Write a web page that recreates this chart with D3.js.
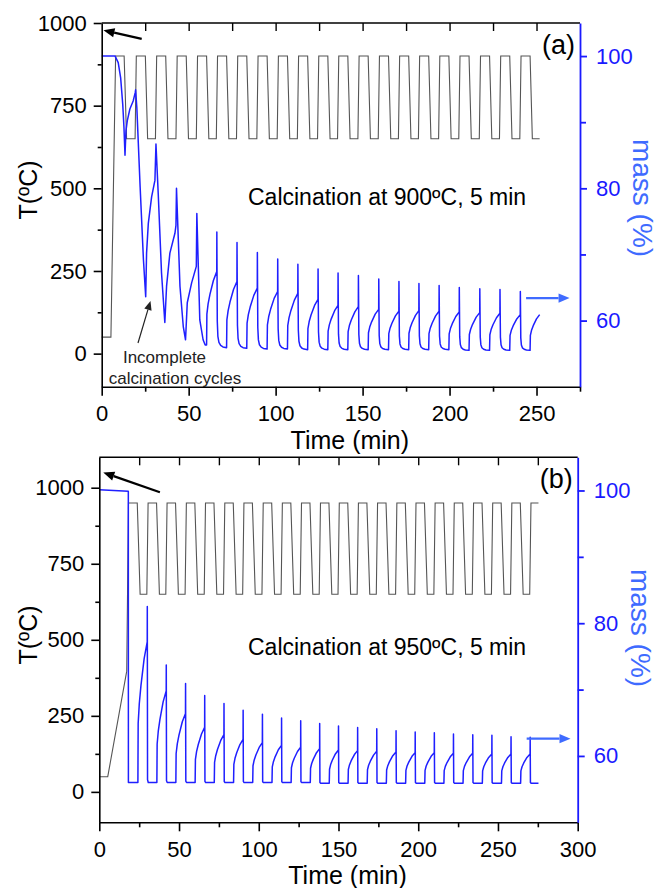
<!DOCTYPE html>
<html>
<head>
<meta charset="utf-8">
<script src="https://cdn.jsdelivr.net/npm/d3@7"></script>
<style>
    body { margin: 0; background: #fff; }
    text { font-family: "Liberation Sans", Arial, sans-serif; }
</style>
</head>
<body>
<svg id="chart" width="660" height="888"></svg>
<script>
// ---------- panel (a): calcination at 900 C ----------
// temperature program: start, then one heat/hold/cool step per cycle
const tempStartTimeA = [0, 5.3, 8.0, 12.9, 14.3];
const tempStartA = [50, 50, 900, 900, 650];
const tempStepDtA = [-0.3, 0.4, 5.6, 6.9];
const tempStepA = [650, 900, 900, 650];
const endTimeA = 251.8;
// heating onsets (min) = the spikes of the mass curve
const cycleTimeA = [19.5, 31.2, 43.0, 54.7, 66.2, 77.8, 89.5, 101.2, 112.8, 124.4,
    135.9, 147.6, 159.3, 170.9, 182.4, 194.0, 205.6, 217.4, 229.0, 240.7];
// first calcination and the incomplete cycles, read point by point
const earlyTimeA = [0, 7.7, 9.5, 10.9, 12.1, 12.8, 13.4, 13.95, 14.7, 16.2, 18.1, 19.3, 19.5,
    20.2, 22.1, 24.0, 25.3, 25.8, 26.8, 28.7, 30.6, 31.2, 32.5, 34.4, 36.3,
    37.3, 39.2, 42.1, 42.7, 43.0, 45.0, 46.9, 48.2, 49.2, 51.7, 54.4, 54.7, 56.4, 58.3, 59.5];
const earlyMassA = [100, 100, 99.0, 96.7, 92.7, 89.2, 85.0, 88.7, 90.2, 92.0, 93.2, 94.5, 94.9,
    92.2, 80.2, 69.2, 63.6, 70.2, 74.7, 78.7, 81.2, 86.7, 79.2, 67.2, 59.7,
    65.2, 70.2, 73.2, 74.4, 80.0, 65.2, 59.1, 57.1, 62.7, 65.7, 68.2, 76.2, 60.1, 57.1, 56.3];
// cycles 5-20: mass at end of carbonation, spike top, and after calcination (%)
const topMassA = [67.4, 65.9, 64.9, 64.4, 64.1, 63.2, 62.3, 62.1, 61.7, 61.4, 61.5, 61.4, 61.3, 61.2, 61.1, 60.9];
const peakMassA = [73.4, 71.8, 70.3, 69.3, 68.5, 67.8, 67.2, 66.8, 66.3, 65.9, 65.6, 65.3, 65.0, 64.8, 64.7, 64.4];
const lowMassA = [55.9, 55.8, 55.7, 55.7, 55.6, 55.6, 55.6, 55.6, 55.6, 55.6, 55.6, 55.6, 55.5, 55.5, 55.5, 55.5];
const endMassA = 60.9;

// ---------- panel (b): calcination at 950 C ----------
const tempStartTimeB = [0, 5.3, 17.2, 18.3, 23.8, 25.6];
const tempStartB = [50, 50, 397, 950, 950, 650];
const tempStepDtB = [-0.3, 0.5, 5.8, 7.6];
const tempStepB = [650, 950, 950, 650];
const endTimeB = 275.4;
const cycleTimeB = [30.1, 42.0, 54.1, 66.1, 78.2, 90.2, 102.3, 114.3, 126.3, 138.2, 150.0,
    162.0, 174.0, 186.1, 198.1, 210.1, 222.1, 234.2, 246.2, 258.2, 270.2];
const earlyTimeB = [0, 18.2, 18.25];
const earlyMassB = [100.1, 99.9, 56.0];
const topMassB = [77.2, 69.8, 66.4, 64.3, 63.2, 62.5, 62.0, 61.6, 61.3, 61.1, 60.9,
    60.8, 60.7, 60.6, 60.5, 60.5, 60.4, 60.4, 60.3, 60.3, 60.3];
const peakMassB = [82.5, 73.7, 70.9, 69.1, 67.9, 66.9, 66.3, 65.7, 65.3, 64.9, 64.5,
    64.3, 64.1, 63.8, 63.6, 63.5, 63.3, 63.2, 63.1, 62.9, 62.8];
const lowMassB = [56.0, 56.0, 56.0, 56.0, 56.0, 56.0, 56.0, 56.0, 56.0, 55.9, 55.9,
    55.9, 55.9, 55.9, 55.9, 55.9, 55.9, 55.9, 55.9, 55.9, 55.9];

// shape of one carbonation step (fraction of time, fraction of mass gain)
const riseU = [0, 0.03, 0.15, 0.33, 0.67, 1];
const riseF = [0, 0.42, 0.56, 0.69, 0.88, 1];

var svg = d3.select('#chart');
var massBlue = '#1f1fff';
var labelBlue = '#3f6bff';

function buildTemp(startT, startV, steps, stepDt, stepV, endTime) {
    let pts = startT.map((t, i) => [t, startV[i]]);
    steps.forEach(function (s) {
        stepDt.forEach(function (dt, j) {
            pts.push([s + dt, stepV[j]]);
        });
    });
    let out = pts.filter((d) => d[0] < endTime);
    out.push([endTime, out[out.length - 1][1]]);
    return out;
}

function buildMass(cfg) {
    let pts = cfg.earlyT.map((t, i) => [t, cfg.earlyM[i]]);
    let low = cfg.earlyM[cfg.earlyM.length - 1];
    let prevSpike = cfg.firstPrev;
    cfg.spikes.forEach(function (s, i) {
        let rs = prevSpike + cfg.riseDelay;
        riseU.forEach(function (u, j) {
            pts.push([rs + u * (s - 0.05 - rs), low + riseF[j] * (cfg.top[i] - low)]);
        });
        pts.push([s, cfg.peak[i]]);
        let newLow = cfg.low[i];
        cfg.dropDt.forEach(function (dt, j) {
            pts.push([s + dt, newLow + cfg.dropF[j] * (cfg.top[i] - newLow)]);
        });
        low = newLow;
        prevSpike = s;
    });
    let rs = prevSpike + cfg.riseDelay;
    if (cfg.endMass !== undefined) {
        pts.push([rs, low]);
        riseU.slice(1).forEach(function (u, j) {
            pts.push([rs + u * (cfg.endTime - rs), low + riseF[j + 1] * (cfg.endMass - low)]);
        });
    } else {
        pts.push([cfg.endTime, low]);
    }
    return pts;
}

function drawPanel(p) {
    let x = d3.scaleLinear().domain(p.xDomain).range([p.left, p.right]);
    let yT = d3.scaleLinear().domain(p.tDomain).range([p.bottom, p.top]);
    let yM = d3.scaleLinear().domain([50, 105]).range([p.bottom, p.top]);
    let g = svg.append('g');

    // curves
    let lineT = d3.line().x((d) => x(d[0])).y((d) => yT(d[1]));
    let lineM = d3.line().x((d) => x(d[0])).y((d) => yM(d[1]));
    g.append('path').attr('d', lineT(p.temp))
        .attr('fill', 'none').attr('stroke', '#555').attr('stroke-width', 1.1);
    g.append('path').attr('d', lineM(p.mass))
        .attr('fill', 'none').attr('stroke', massBlue).attr('stroke-width', 1.5)
        .attr('stroke-linejoin', 'round');

    // frame: top line
    g.append('line').attr('x1', p.left).attr('x2', p.right).attr('y1', p.top).attr('y2', p.top)
        .attr('stroke', '#000').attr('stroke-width', 1.6);

    let fontSize = 22;
    // bottom axis
    let xb = g.append('g').attr('transform', 'translate(0,' + p.bottom + ')');
    xb.call(d3.axisBottom(x).tickValues(p.xMajor).tickSize(9).tickSizeOuter(0).tickPadding(10).tickFormat(d3.format('d')));
    xb.append('g').call(d3.axisBottom(x).tickValues(p.xMinor).tickSize(5).tickFormat(''))
        .select('.domain').remove();
    // top ticks, inward
    let xt = g.append('g').attr('transform', 'translate(0,' + p.top + ')');
    xt.call(d3.axisTop(x).tickValues(p.xMajor.concat(p.xMinor).filter((v) => v > 0 && v < p.xDomain[1]))
        .tickSize(-8).tickFormat('')).select('.domain').remove();
    // left axis
    let yl = g.append('g').attr('transform', 'translate(' + p.left + ',0)');
    yl.call(d3.axisLeft(yT).tickValues([0, 250, 500, 750, 1000]).tickSize(8).tickSizeOuter(0)
        .tickPadding(7).tickFormat(d3.format('d')));
    yl.append('g').call(d3.axisLeft(yT).tickValues([125, 375, 625, 875]).tickSize(4).tickFormat(''))
        .select('.domain').remove();
    // right axis, blue
    let yr = g.append('g').attr('transform', 'translate(' + p.right + ',0)');
    yr.call(d3.axisRight(yM).tickValues([60, 80, 100]).tickSize(7).tickSizeOuter(0).tickPadding(9));
    yr.append('g').call(d3.axisRight(yM).tickValues([70, 90]).tickSize(6).tickFormat(''))
        .select('.domain').remove();

    [xb, yl].forEach(function (a) {
        a.selectAll('path, line').attr('stroke', '#000').attr('stroke-width', 1.6);
        a.selectAll('text').attr('fill', '#000').style('font-size', fontSize + 'px');
    });
    xt.selectAll('line').attr('stroke', '#000').attr('stroke-width', 1.4);
    yr.selectAll('path, line').attr('stroke', '#1a1aff').attr('stroke-width', 1.8);
    yr.selectAll('text').attr('fill', '#1a1aff').style('font-size', fontSize + 'px');

    // axis titles
    g.append('text').attr('transform', 'translate(37,' + p.tLabelY + ') rotate(-90)')
        .attr('text-anchor', 'middle').style('font-size', '25px').text('T(ºC)');
    g.append('text').attr('x', (p.left + p.right) / 2 + 9).attr('y', p.bottom + 62)
        .attr('text-anchor', 'middle').style('font-size', '25px').text('Time (min)');
    g.append('text').attr('transform', 'translate(' + (p.right + 53) + ',' + p.mLabelY + ') rotate(90)')
        .attr('text-anchor', 'middle').attr('fill', labelBlue)
        .style('font-size', '28px').text('mass (%)');

    // panel letter and condition
    g.append('text').attr('x', p.right - 5).attr('y', p.top + 31).attr('text-anchor', 'end')
        .style('font-size', '27px').text(p.letter);
    g.append('text').attr('x', 248).attr('y', yT(p.noteT))
        .style('font-size', '23px').text(p.note);

    // arrows
    drawArrow(g, x(p.blackArrow[0]), yT(p.blackArrow[1]), x(p.blackArrow[2]), yT(p.blackArrow[3]), '#000');
    drawArrow(g, x(p.blueArrow[0]), yM(p.blueArrow[1]), x(p.blueArrow[2]), yM(p.blueArrow[1]), labelBlue);
    return {x: x, yT: yT, yM: yM, g: g};
}

function drawArrow(g, x1, y1, x2, y2, color, head = 11, width = 2.2) {
    let ang = Math.atan2(y2 - y1, x2 - x1);
    let bx = x2 - head * Math.cos(ang), by = y2 - head * Math.sin(ang);
    g.append('line').attr('x1', x1).attr('y1', y1).attr('x2', bx).attr('y2', by)
        .attr('stroke', color).attr('stroke-width', width);
    let w = head * 0.42;
    let pts = [[x2, y2],
        [bx + w * Math.sin(ang), by - w * Math.cos(ang)],
        [bx - w * Math.sin(ang), by + w * Math.cos(ang)]];
    g.append('path').attr('d', 'M' + pts.map((d) => d.join(',')).join('L') + 'Z').attr('fill', color);
}

var panelA = drawPanel({
    xDomain: [0, 275], tDomain: [-100, 1000],
    left: 101.7, right: 580, top: 23, bottom: 386.7,
    xMajor: [0, 50, 100, 150, 200, 250], xMinor: [25, 75, 125, 175, 225, 275],
    temp: buildTemp(tempStartTimeA, tempStartA, cycleTimeA, tempStepDtA, tempStepA, endTimeA),
    mass: buildMass({earlyT: earlyTimeA, earlyM: earlyMassA, firstPrev: cycleTimeA[3],
        spikes: cycleTimeA.slice(4), top: topMassA, peak: peakMassA, low: lowMassA,
        riseDelay: 5.6, dropDt: [0.25, 0.6, 1.2, 2.2, 3.5], dropF: [0.35, 0.15, 0.07, 0.03, 0.01],
        endTime: endTimeA, endMass: endMassA}),
    tLabelY: 190, mLabelY: 198,
    letter: '(a)', note: 'Calcination at 900ºC, 5 min', noteT: 450,
    blackArrow: [23, 952, 1, 978], blueArrow: [244, 63.4, 269]
});

var panelB = drawPanel({
    xDomain: [0, 300], tDomain: [-100, 1100],
    left: 99.3, right: 577.7, top: 457.3, bottom: 822.3,
    xMajor: [0, 50, 100, 150, 200, 250, 300], xMinor: [25, 75, 125, 175, 225, 275],
    temp: buildTemp(tempStartTimeB, tempStartB, cycleTimeB, tempStepDtB, tempStepB, endTimeB),
    mass: buildMass({earlyT: earlyTimeB, earlyM: earlyMassB, firstPrev: 18.2,
        spikes: cycleTimeB, top: topMassB, peak: peakMassB, low: lowMassB,
        riseDelay: 6.0, dropDt: [0.15, 0.6], dropF: [0.02, 0],
        endTime: endTimeB}),
    tLabelY: 635, mLabelY: 628,
    letter: '(b)', note: 'Calcination at 950ºC, 5 min', noteT: 450,
    blackArrow: [38, 985, 2.5, 1050], blueArrow: [268, 62.6, 295.5]
});

// annotation for the incomplete cycles in (a)
var ann = panelA.g;
drawArrow(ann, 138, 343, 150.5, 301, '#222', 9, 1.2);
ann.append('text').attr('x', 164.5).attr('y', 363).attr('text-anchor', 'middle')
    .style('font-size', '17px').attr('fill', '#222').text('Incomplete');
ann.append('text').attr('x', 175).attr('y', 384).attr('text-anchor', 'middle')
    .style('font-size', '17px').attr('fill', '#222').text('calcination cycles');
</script>
</body>
</html>
